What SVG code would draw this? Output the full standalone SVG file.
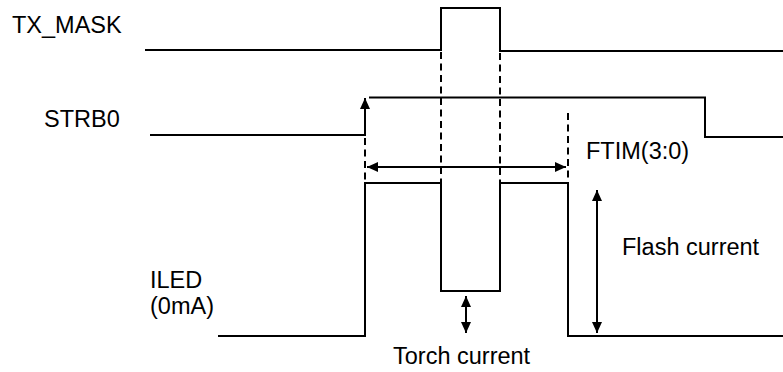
<svg xmlns="http://www.w3.org/2000/svg" width="783" height="372" viewBox="0 0 783 372">
<style>
.sig{fill:none;stroke:#000;stroke-width:2;stroke-linejoin:miter}
.dash{fill:none;stroke:#000;stroke-width:2;stroke-dasharray:7,4.5}
.arr{fill:none;stroke:#000;stroke-width:2}
text{font-family:"Liberation Sans",Arial,sans-serif;font-size:23.5px;fill:#000}
</style>
<defs>
<marker id="ah" markerUnits="userSpaceOnUse" markerWidth="12" markerHeight="11" refX="11" refY="5" orient="auto-start-reverse" viewBox="0 0 12 11">
<path d="M0,0 L11,5 L0,10 z" fill="#000"/>
</marker>
</defs>
<rect width="783" height="372" fill="#fff"/>
<g id="tx_mask">
<text x="12" y="33">TX_MASK</text>
<path class="sig" d="M145,50 H441 V8 H500 V51 H783"/>
</g>
<g id="strb0">
<text x="44" y="127">STRB0</text>
<path class="sig" d="M150,135 H365 V98" marker-end="url(#ah)"/>
<path class="sig" d="M369,97.5 H705 V137 H783"/>
</g>
<g id="iled">
<text x="150" y="288">ILED</text>
<text x="150" y="314">(0mA)</text>
<path class="sig" d="M218,336 H365 V183 H441 V291 H500 V183 H568 V336 H783"/>
</g>
<g id="connectors">
<line class="dash" x1="365" y1="138" x2="365" y2="183"/>
<line class="dash" x1="441" y1="52" x2="441" y2="183"/>
<line class="dash" x1="500" y1="53" x2="500" y2="183"/>
<line class="dash" x1="568" y1="113" x2="568" y2="183"/>
<line class="arr" x1="367" y1="167" x2="566" y2="167" marker-start="url(#ah)" marker-end="url(#ah)"/>
<line class="arr" x1="466" y1="296" x2="466" y2="333" marker-start="url(#ah)" marker-end="url(#ah)"/>
<line class="arr" x1="597" y1="190" x2="597" y2="333" marker-start="url(#ah)" marker-end="url(#ah)"/>
</g>
<g id="labels">
<text x="586" y="159">FTIM(3:0)</text>
<text x="622" y="255">Flash current</text>
<text x="393" y="364">Torch current</text>
</g>
</svg>
